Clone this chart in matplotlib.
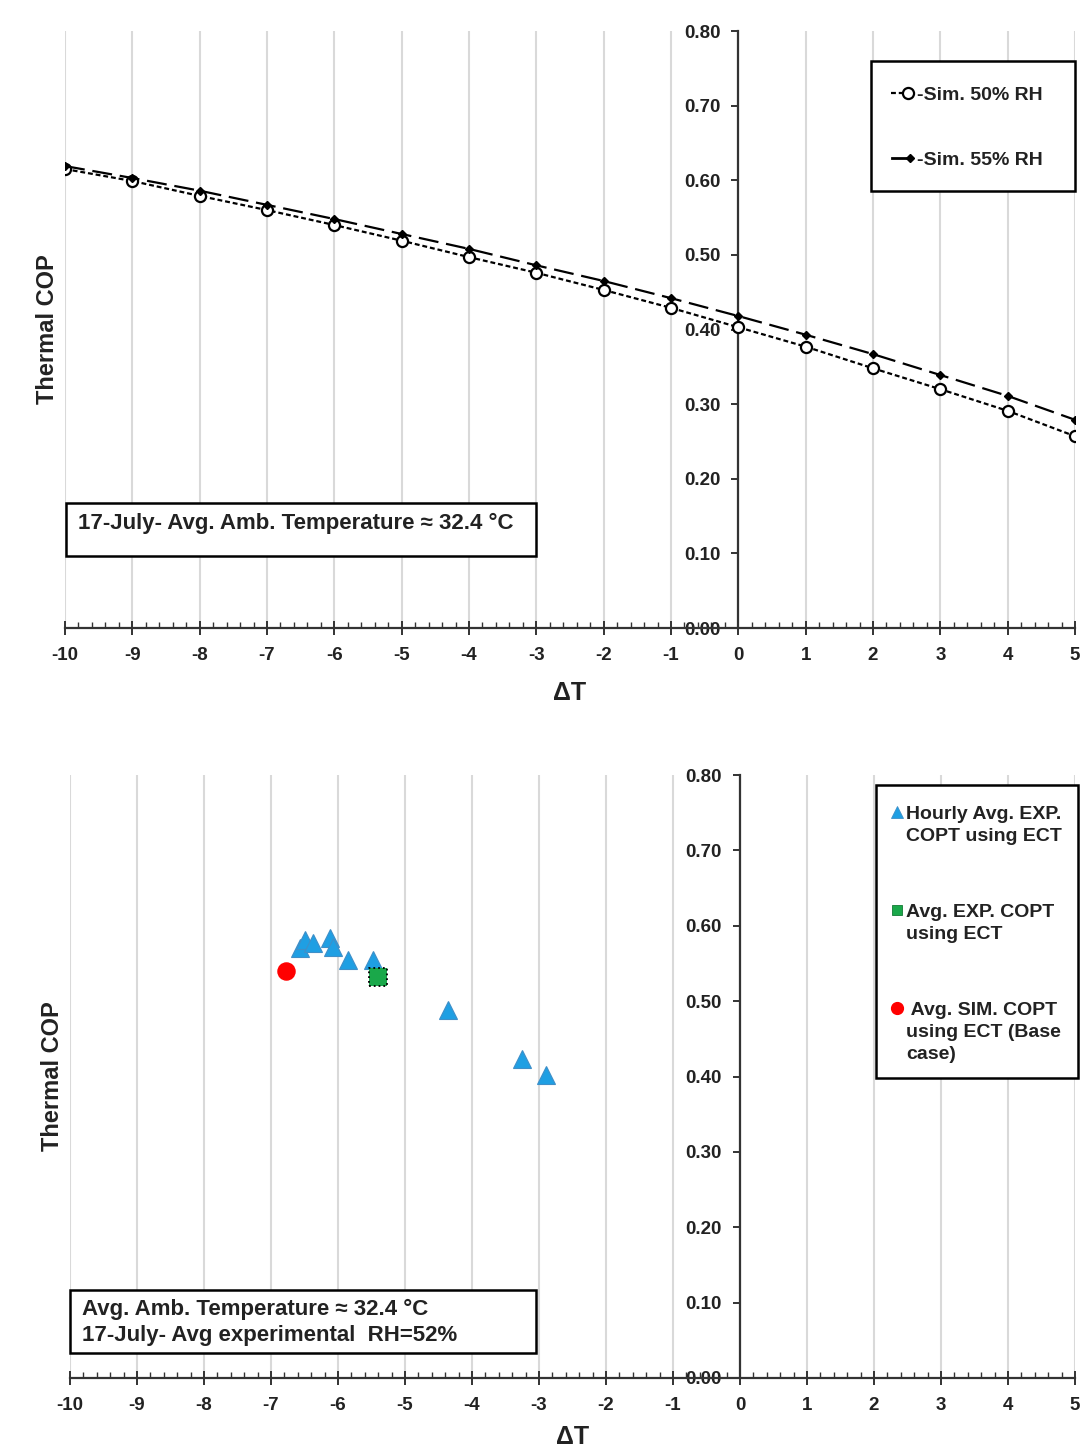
import matplotlib
matplotlib.use("Agg")
import matplotlib.pyplot as plt
from matplotlib.patches import Rectangle
import numpy as np

plt.rcParams['font.family'] = ['Liberation Sans', 'DejaVu Sans']
plt.rcParams['font.weight'] = 'bold'

# ---------------- data ----------------
dT = [-10, -9, -8, -7, -6, -5, -4, -3, -2, -1, 0, 1, 2, 3, 4, 5]
cop_50rh = [0.615, 0.599, 0.579, 0.560, 0.540, 0.519, 0.497, 0.476,
            0.453, 0.429, 0.403, 0.377, 0.348, 0.320, 0.291, 0.257]
cop_55rh = [0.619, 0.603, 0.586, 0.567, 0.548, 0.528, 0.508, 0.486,
            0.465, 0.442, 0.418, 0.393, 0.367, 0.339, 0.311, 0.279]

hourly_dT = [-6.57, -6.49, -6.37, -6.12, -6.07, -5.85, -5.48, -4.36, -3.25, -2.90]
hourly_cop = [0.570, 0.581, 0.577, 0.584, 0.572, 0.555, 0.555, 0.488, 0.423, 0.402]
avg_exp_dT = [-5.40]
avg_exp_cop = [0.532]
avg_sim_dT = [-6.78]
avg_sim_cop = [0.540]

xticks = list(range(-10, 6))
yticks = [0.0, 0.1, 0.2, 0.3, 0.4, 0.5, 0.6, 0.7, 0.8]

legend1_labels = ['-Sim. 50% RH', '-Sim. 55% RH']
legend2_labels = [['Hourly Avg. EXP.', 'COPT using ECT'],
                  ['Avg. EXP. COPT', 'using ECT'],
                  [' Avg. SIM. COPT', 'using ECT (Base', 'case)']]
note1 = '17-July- Avg. Amb. Temperature ≈ 32.4 °C'
note2 = ['Avg. Amb. Temperature ≈ 32.4 °C', '17-July- Avg experimental  RH=52%']

TXT = '#222222'
W, H = 1081, 1449
fig = plt.figure(figsize=(W / 100, H / 100), dpi=100)


def setup_axes(ax):
    ax.set_xlim(-10, 5)
    ax.set_ylim(0, 0.8)
    for s in ['top', 'right']:
        ax.spines[s].set_visible(False)
    ax.spines['left'].set_position(('data', 0))
    ax.spines['bottom'].set_position(('data', 0))
    for s in ['left', 'bottom']:
        ax.spines[s].set_color('#333333')
        ax.spines[s].set_linewidth(1.6)
        ax.spines[s].set_zorder(3)
    ax.set_xticks(xticks)
    ax.set_xticks(np.arange(-10, 5.01, 0.2), minor=True)
    ax.set_yticks(yticks)
    ax.set_yticklabels([f"{v:.2f}" for v in yticks])
    ax.set_xticklabels([str(v) for v in xticks])
    ax.tick_params(axis='x', which='major', direction='inout', length=10,
                   width=1.4, color='#333333', labelsize=13.5, pad=8.5)
    ax.tick_params(axis='x', which='minor', direction='in', length=4,
                   width=1.0, color='#333333')
    ax.tick_params(axis='y', which='major', direction='out', length=5,
                   width=1.4, color='#333333', labelsize=13.5, pad=8)
    ax.grid(axis='x', which='major', color='#d9d9d9', linewidth=1.5, zorder=0)
    ax.set_axisbelow(True)
    for lab in ax.get_xticklabels() + ax.get_yticklabels():
        lab.set_fontweight('bold')
        lab.set_color(TXT)


def labels(ax, ylab_x, xlab_y):
    ax.set_ylabel('Thermal COP', fontsize=17, fontweight='bold', color=TXT)
    ax.yaxis.label.set_va('center')
    ax.yaxis.set_label_coords(ylab_x, 0.5)
    ax.set_xlabel('ΔT', fontsize=18, fontweight='bold', color=TXT)
    ax.xaxis.label.set_va('center')
    ax.xaxis.set_label_coords(0.5, xlab_y)


# ---------------- top panel ----------------
ax1 = fig.add_axes([65 / W, 1 - 628 / H, 1010 / W, 597 / H])
setup_axes(ax1)
ax1.plot(dT, cop_50rh, color='black', linewidth=1.6, dashes=(2.2, 1.3),
         marker='o', markersize=8, markerfacecolor='white',
         markeredgecolor='black', markeredgewidth=1.6, zorder=4)
ax1.plot(dT, cop_55rh, color='black', linewidth=1.6, dashes=(9, 3.5),
         marker='D', markersize=4.5, markerfacecolor='black',
         markeredgecolor='black', zorder=5)
labels(ax1, -0.0178, -0.109)

# legend (top)
ax1.add_patch(Rectangle((0.798, 0.732), 0.202, 0.218, transform=ax1.transAxes,
                        facecolor='white', edgecolor='black', linewidth=1.8,
                        zorder=6, clip_on=False))
ax1.plot([0.8178, 0.8347], [0.8961, 0.8961], transform=ax1.transAxes,
         color='black', linewidth=1.6, dashes=(2.2, 1.3), marker='o', markevery=[1],
         markersize=8, markerfacecolor='white', markeredgecolor='black',
         markeredgewidth=1.6, zorder=7, clip_on=False)
ax1.plot([0.8188, 0.8366], [0.7873, 0.7873], transform=ax1.transAxes,
         color='black', linewidth=2.0, marker='D', markevery=[1],
         markersize=4.5, markerfacecolor='black', markeredgecolor='black',
         zorder=7, clip_on=False)
for lab, yb in zip(legend1_labels, [0.8844, 0.7755]):
    ax1.text(0.8436, yb, lab, transform=ax1.transAxes, fontsize=14,
             fontweight='bold', color=TXT, ha='left', va='baseline', zorder=8)

# note box (top)
ax1.add_patch(Rectangle((0.001, 0.121), 0.465, 0.088, transform=ax1.transAxes,
                        facecolor='white', edgecolor='black', linewidth=1.8,
                        zorder=6, clip_on=False))
ax1.text(0.0129, 0.1658, note1, transform=ax1.transAxes, fontsize=16,
         fontweight='bold', color=TXT, va='baseline', ha='left', zorder=7)

# ---------------- bottom panel ----------------
ax2 = fig.add_axes([70 / W, 1 - 1378 / H, 1005 / W, 603 / H])
setup_axes(ax2)
tri_face = '#1F9FE3'
tri_edge = '#3F8FC8'
ax2.plot(hourly_dT, hourly_cop, linestyle='none', marker='^', markersize=13.5,
         markerfacecolor=tri_face, markeredgecolor=tri_edge, markeredgewidth=0.8,
         zorder=4)
ax2.scatter(avg_exp_dT, avg_exp_cop, marker='s', s=13 ** 2, facecolors='#1AA84A',
            edgecolors='black', linewidths=1.3, linestyles=':', zorder=5)
ax2.plot(avg_sim_dT, avg_sim_cop, linestyle='none', marker='o', markersize=12.3,
         markerfacecolor='#FF0000', markeredgecolor='#FF0000', zorder=5)
labels(ax2, -0.0179, -0.098)

# legend (bottom)
ax2.add_patch(Rectangle((0.802, 0.4975), 0.201, 0.486, transform=ax2.transAxes,
                        facecolor='white', edgecolor='black', linewidth=1.8,
                        zorder=6, clip_on=False))
ax2.plot([0.8229], [0.9386], transform=ax2.transAxes, linestyle='none', marker='^',
         markersize=9, markerfacecolor=tri_face, markeredgecolor=tri_edge,
         markeredgewidth=0.6, zorder=7, clip_on=False)
ax2.plot([0.8229], [0.7761], transform=ax2.transAxes, linestyle='none', marker='s',
         markersize=7.5, markerfacecolor='#1AA84A', markeredgecolor='#117A33',
         markeredgewidth=0.6, zorder=7, clip_on=False)
ax2.plot([0.8229], [0.6136], transform=ax2.transAxes, linestyle='none', marker='o',
         markersize=8.5, markerfacecolor='#FF0000', markeredgecolor='#FF0000',
         zorder=7, clip_on=False)
baselines = [[0.9270, 0.8905], [0.7645, 0.7280], [0.6020, 0.5655, 0.5290]]
for lines, ybs in zip(legend2_labels, baselines):
    for line, yb in zip(lines, ybs):
        ax2.text(0.8318, yb, line, transform=ax2.transAxes, fontsize=14,
                 fontweight='bold', color=TXT, ha='left', va='baseline', zorder=8)

# note box (bottom)
ax2.add_patch(Rectangle((0.0, 0.0415), 0.4637, 0.1045, transform=ax2.transAxes,
                        facecolor='white', edgecolor='black', linewidth=1.8,
                        zorder=6, clip_on=False))
for line, yb in zip(note2, [0.1045, 0.0614]):
    ax2.text(0.0119, yb, line, transform=ax2.transAxes, fontsize=16,
             fontweight='bold', color=TXT, va='baseline', ha='left', zorder=7)

fig.savefig('out.png', dpi=100, facecolor='white')
